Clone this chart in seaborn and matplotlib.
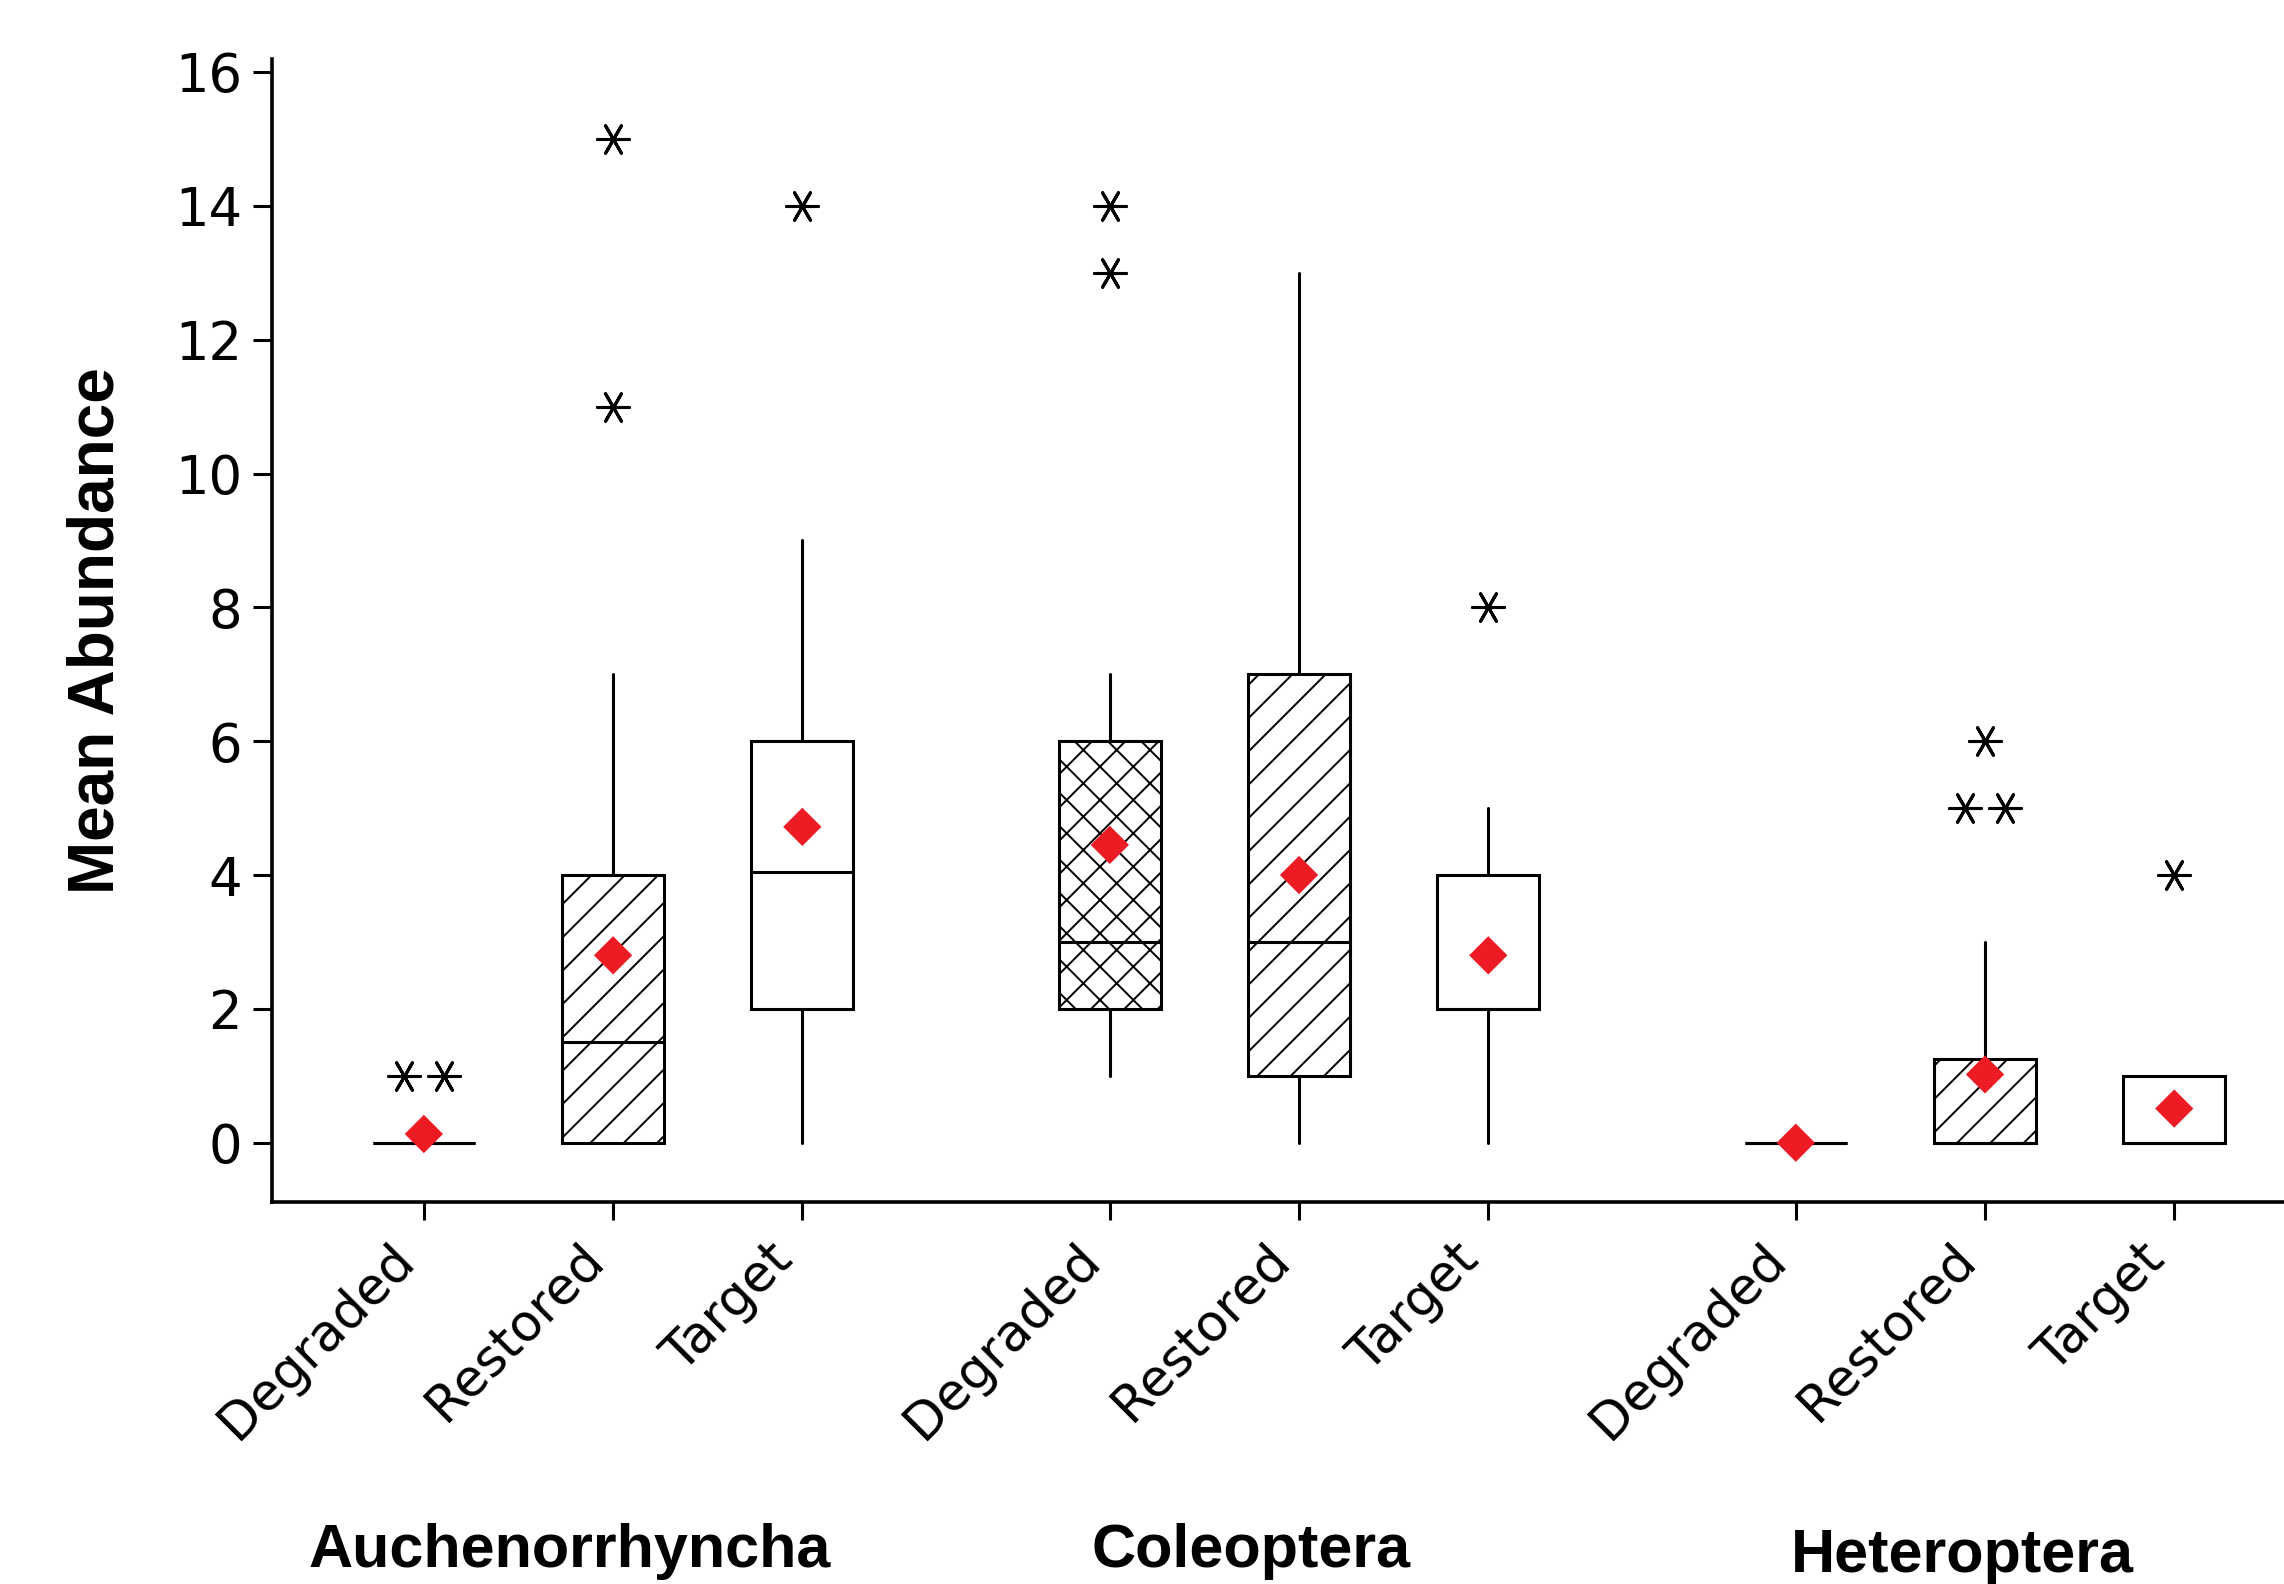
import matplotlib
matplotlib.use('Agg')
import pandas as pd
import matplotlib.pyplot as plt
import seaborn as sns

# 데이터
groups = ['Auchenorrhyncha', 'Coleoptera', 'Heteroptera']
treatments = ['Degraded', 'Restored', 'Target']

q1 = [0, 0, 2, 2, 1, 2, 0, 0, 0]
medians = [0, 1.5, 4.05, 3, 3, 2, 0, 0, 0]
q3 = [0, 4, 6, 6, 7, 4, 0, 1.25, 1]
whisker_low = [0, 0, 0, 1, 0, 0, 0, 0, 0]
whisker_high = [0, 7, 9, 7, 13, 5, 0, 3, 1]
means = [0.13, 2.8, 4.72, 4.45, 4.0, 2.8, 0.0, 1.02, 0.51]
outliers = [[1, 1], [11, 15], [14], [13, 14], [], [8], [], [5, 5, 6], [4]]

# 스타일
sns.set_style('ticks')
plt.rcParams['font.family'] = ['DejaVu Sans']
plt.rcParams['hatch.linewidth'] = 0.7
plt.rcParams['axes.edgecolor'] = 'black'
plt.rcParams['axes.labelcolor'] = 'black'
plt.rcParams['text.color'] = 'black'
plt.rcParams['xtick.color'] = 'black'
plt.rcParams['ytick.color'] = 'black'

# 박스 위치 (그룹 사이 간격)
group_step = 3.625
positions = [g * group_step + t + 1 for g in range(len(groups)) for t in range(len(treatments))]
treatment_col = treatments * len(groups)

fig = plt.figure(figsize=(11.42, 7.92), dpi=200)
ax = fig.add_axes([0.1193, 0.241, 0.8807, 0.722])

# 박스플롯 (요약 통계)
stats = []
for i in range(len(positions)):
    stats.append(dict(q1=q1[i], med=medians[i], q3=q3[i],
                      whislo=whisker_low[i], whishi=whisker_high[i], fliers=[]))

bp = ax.bxp(stats, positions=positions, widths=0.54, showcaps=False, showfliers=False,
            patch_artist=True, manage_ticks=False,
            boxprops=dict(facecolor='white', edgecolor='black', linewidth=1.1),
            whiskerprops=dict(color='black', linewidth=1.1),
            medianprops=dict(color='black', linewidth=1.1))

hatches = {'Degraded': 'xx', 'Restored': '//', 'Target': ''}
for box, t in zip(bp['boxes'], treatment_col):
    box.set_hatch(hatches[t])

# 이상치 (같은 값은 옆으로 나란히)
out_x, out_y = [], []
for pos, vals in zip(positions, outliers):
    for v in sorted(set(vals)):
        n = vals.count(v)
        for k in range(n):
            out_x.append(pos + (k - (n - 1) / 2) * 0.21)
            out_y.append(v)
out_df = pd.DataFrame({'x': out_x, 'y': out_y})
sns.scatterplot(data=out_df, x='x', y='y', marker=(6, 2, 90), s=130,
                color='black', linewidth=1.1, zorder=4, ax=ax, legend=False)

# 평균 (빨간 다이아몬드)
mean_df = pd.DataFrame({'x': positions, 'mean': means})
sns.scatterplot(data=mean_df, x='x', y='mean', marker='D', s=95,
                color='#ED1C24', edgecolor='none', zorder=5, ax=ax, legend=False)

# 축 설정
ax.set_xlim(0.2, 10.83)
ax.set_ylim(-0.89, 16.2)
ax.set_yticks(range(0, 17, 2))
ax.set_xticks(positions)
ax.set_xticklabels(treatment_col, rotation=45, ha='right', va='top')
ax.tick_params(axis='y', length=7, width=1.1, pad=4, labelsize=19)
ax.tick_params(axis='x', length=6.5, width=1.1, pad=5, labelsize=18.5)
for sp in ['left', 'bottom']:
    ax.spines[sp].set_linewidth(1.3)
sns.despine(ax=ax)

ax.set_xlabel('')
ax.set_ylabel('Mean Abundance', fontsize=23, fontweight='bold', family=['Liberation Sans'])
ax.yaxis.set_label_coords(-0.0726, 0.5)

# 그룹 이름
label_x = [1.77, 5.37, 9.13]
label_y = [-0.319, -0.319, -0.3235]
for name, lx, ly in zip(groups, label_x, label_y):
    ax.text(lx, ly, name, transform=ax.get_xaxis_transform(), ha='center', va='baseline',
            fontsize=22, fontweight='bold', family=['Liberation Sans'])

fig.savefig('out.png', dpi=200)
